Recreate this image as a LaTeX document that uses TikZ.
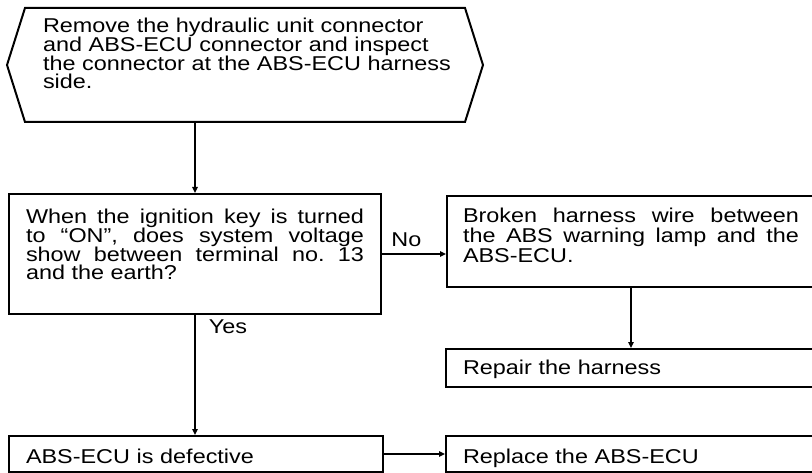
\documentclass[tikz,border=0pt]{standalone}
\usepackage{fontspec}
\setmainfont{Liberation Sans}[FakeStretch=1.17]
\usepackage{tikz}
\usetikzlibrary{arrows.meta}
\usetikzlibrary{calc}
\tikzset{b/.style={draw, line width=1.5pt, anchor=north west, inner ysep=0pt, inner xsep=12.75pt, font=\fontsize{15}{14}\selectfont}}
\tikzset{l/.style={font=\fontsize{15}{15}\selectfont, inner sep=0pt}}
\tikzset{a/.style={->, line width=1.25pt}}
\lineskiplimit=-20pt
\hbadness=10000
\frenchspacing

\begin{document}
\begin{tikzpicture}[x=0.75pt, y=-0.75pt, >={Triangle[length=4.5pt,width=4pt]}]
  \clip (0,0) rectangle (812,473);
  % first check
  \node [b, draw=none, align=left, text width=313.5pt, text height=18pt, text depth=66pt] (remove) at (25,8)
    {Remove the hydraulic unit connector\\and ABS-ECU connector and inspect\\the connector at the ABS-ECU harness\\side.};
  \draw [line width=1.5pt] (remove.north west) -- ($(remove.north east)+(-14,0)$) -- ($(remove.east)+(4,0)$)
    -- ($(remove.south east)+(-14,0)$) -- (remove.south west) -- ($(remove.west)+(-18,0)$) -- cycle;
  \node [b, align=justify, text width=253.5pt, text height=22.5pt, text depth=67.5pt] (keyon) at (8,193)
    {When the ignition key is turned\linebreak to ``ON'', does system voltage\linebreak show between terminal no. 13\linebreak and the earth?};
  \node [b, align=justify, text width=252pt, inner xsep=12pt, text height=20.25pt, text depth=48pt,
    font=\fontsize{15}{15}\selectfont] (wire) at (446,195)
    {Broken harness wire between\linebreak the ABS warning lamp and the\linebreak ABS-ECU.};
  \node [b, align=left, text width=252pt, text height=19.1pt, text depth=9.4pt] (repair) at (445,348) {Repair the harness};
  \node [b, align=left, text width=255pt, text height=20.25pt, text depth=6.75pt] (ecu) at (8,435) {ABS-ECU is defective};
  \node [b, align=left, text width=252pt, text height=20.25pt, text depth=6.75pt] (replace) at (445,435) {Replace the ABS-ECU};
  % connectors
  \draw [a] (remove.south west -| keyon.north) -- (keyon.north);
  \draw [a] (keyon.east) -- node [l, pos=0.38, above=4.5pt] {No} (keyon.east -| wire.west);
  \draw [a] (keyon.south) -- node [l, pos=0, anchor=base west, xshift=9.75pt, yshift=-14.25pt] {Yes} (keyon.south |- ecu.north);
  \draw [a] (wire) -- (repair);
  \draw [a, line width=2pt] (ecu) -- (replace);
\end{tikzpicture}
\end{document}
